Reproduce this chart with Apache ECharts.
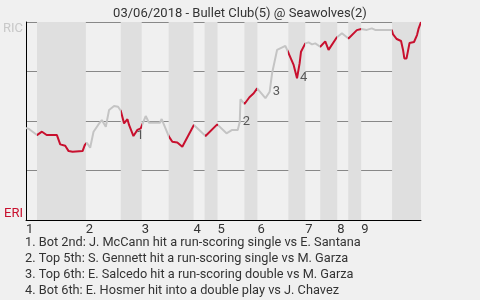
<!DOCTYPE html>
<html>
<head>
<meta charset="utf-8">
<script src="https://cdn.jsdelivr.net/npm/echarts@6/dist/echarts.min.js"></script>
<style>html,body{margin:0;padding:0;background:#f0f0f0;}#c{width:480px;height:300px;}</style>
</head>
<body>
<div id="c"></div>
<script>
const chartTitle = '03/06/2018 - Bullet Club(5) @ Seawolves(2)';
const awayTeam = 'RIC';
const homeTeam = 'ERI';
const innings = ['1','2','3','4','5','6','7','8','9'];
const topStart = [0, 60, 116, 168, 192, 232, 280, 312, 336];
const botStart = [11, 95, 143, 179, 219, 263, 295, 323, 367];
const gameEnd = 396;
const wpX = [0,3,11,16,20.7,31,34.3,36,39.3,42.7,46.7,56.7,59,61,64.3,67.7,72.3,76,80,83.3,88.3,92.3,95,98.3,101.7,103.3,107.7,111.7,115,120,123.3,134.3,136,143.3,146.7,151.7,156.7,168.3,180,191.7,201,206.7,212.3,214.3,215,219,224,228.3,231.7,240,244.3,246.7,251.7,260,263.3,268.3,271.7,274.3,275.7,280,283.3,286.7,290,295,300,303.3,311.5,316.7,323.3,331.7,336,341.7,346.7,350,366.7,368,371.7,376,378,379.3,381.5,384.5,389,392,393.5,396];
const wpY = [46.5,46.0,42.9,44.6,42.9,42.9,38.2,37.5,37.5,34.8,34.5,34.8,37.9,39.0,36.5,44.6,48.0,50.5,47.1,55.6,57.6,57.2,55.2,48.8,50.9,48.0,42.4,45.5,46.3,52.5,49.1,49.1,51.0,42.1,39.5,39.2,37.0,48.0,42.4,48.3,43.8,45.5,45.5,49.6,61.0,58.6,62.0,64.0,66.5,61.5,64.8,74.1,85.9,87.9,84.2,78.3,71.6,79.1,85.0,89.2,89.7,88.7,89.2,87.5,90.2,85.9,92.2,94.3,91.7,95.9,96.5,96.0,96.8,96.0,96.0,93.7,91.4,90.4,85.9,81.6,81.6,89.4,89.9,93.4,96.5,100];
const eventLabels = ['1','2','3','4'];
const eventX = [107.7, 214.3, 244.3, 271.7];
const eventY = [42.4, 49.6, 64.8, 71.6];
const notes = [
  '1. Bot 2nd: J. McCann hit a run-scoring single vs E. Santana',
  '2. Top 5th: S. Gennett hit a run-scoring single vs M. Garza',
  '3. Top 6th: E. Salcedo hit a run-scoring double vs M. Garza',
  '4. Bot 6th: E. Hosmer hit into a double play vs J. Chavez'
];

const RED = '#c8102e', GREY = '#c4c4c4', BAND = '#dfdfdf', FONT = 'Roboto';
const halfEnds = topStart.map((s, i) => i + 1 < topStart.length ? topStart[i + 1] : gameEnd);
const pieces = [];
topStart.forEach((s, i) => {
  pieces.push({gte: s, lt: botStart[i], color: GREY});
  pieces.push({gte: botStart[i], lte: halfEnds[i], color: RED});
});
const bands = botStart.map((b, i) => [{xAxis: b}, {xAxis: halfEnds[i]}]);

const chart = echarts.init(document.getElementById('c'));
chart.setOption({
  backgroundColor: '#f0f0f0',
  animation: false,
  title: {text: chartTitle, left: 'center', top: 2, textStyle: {fontFamily: FONT, fontSize: 13, fontWeight: 'normal', color: '#333'}},
  grid: {left: 25, right: 59, top: 22, bottom: 80},
  visualMap: {show: false, type: 'piecewise', dimension: 0, seriesIndex: 0, pieces: pieces},
  xAxis: {
    type: 'value', min: 0, max: gameEnd,
    axisLine: {show: true, lineStyle: {color: '#000', width: 1}},
    axisTick: {show: false}, splitLine: {show: false},
    axisLabel: {customValues: topStart, formatter: v => innings[topStart.indexOf(v)] || '', align: 'left', margin: 3,
      color: '#333', fontFamily: FONT, fontSize: 13, showMinLabel: true, showMaxLabel: true, hideOverlap: false}
  },
  yAxis: [{
    type: 'value', min: 0, max: 100, interval: 25,
    axisLine: {show: true, lineStyle: {color: '#000'}}, axisTick: {show: false},
    splitLine: {show: true, lineStyle: {color: '#888', width: 1}},
    axisLabel: {formatter: v => v === 100 ? awayTeam : '', verticalAlign: 'top', margin: 3, color: '#c8c8c8', fontFamily: FONT, fontSize: 13}
  }, {
    type: 'value', min: 0, max: 100, interval: 25, position: 'left',
    axisLine: {show: false}, axisTick: {show: false}, splitLine: {show: false},
    axisLabel: {formatter: v => v === 0 ? homeTeam : '', verticalAlign: 'bottom', margin: 3, color: RED, fontFamily: FONT, fontSize: 13}
  }],
  series: [{
    type: 'line', data: wpX.map((x, i) => [x, wpY[i]]), symbol: 'none', lineStyle: {width: 2},
    markArea: {silent: true, itemStyle: {color: BAND}, data: bands}, z: 3
  }, {
    type: 'scatter', data: eventX.map((x, i) => [x, eventY[i], eventLabels[i]]), symbolSize: 0, z: 4,
    label: {show: true, position: 'right', distance: 3, formatter: p => p.value[2], color: '#333', fontFamily: FONT, fontSize: 13}
  }],
  graphic: [{type: 'text', left: 25, top: 235, style: {text: notes.join('\n'), fill: '#333', font: '12.75px Roboto', lineHeight: 16}}]
});
</script>
</body>
</html>
